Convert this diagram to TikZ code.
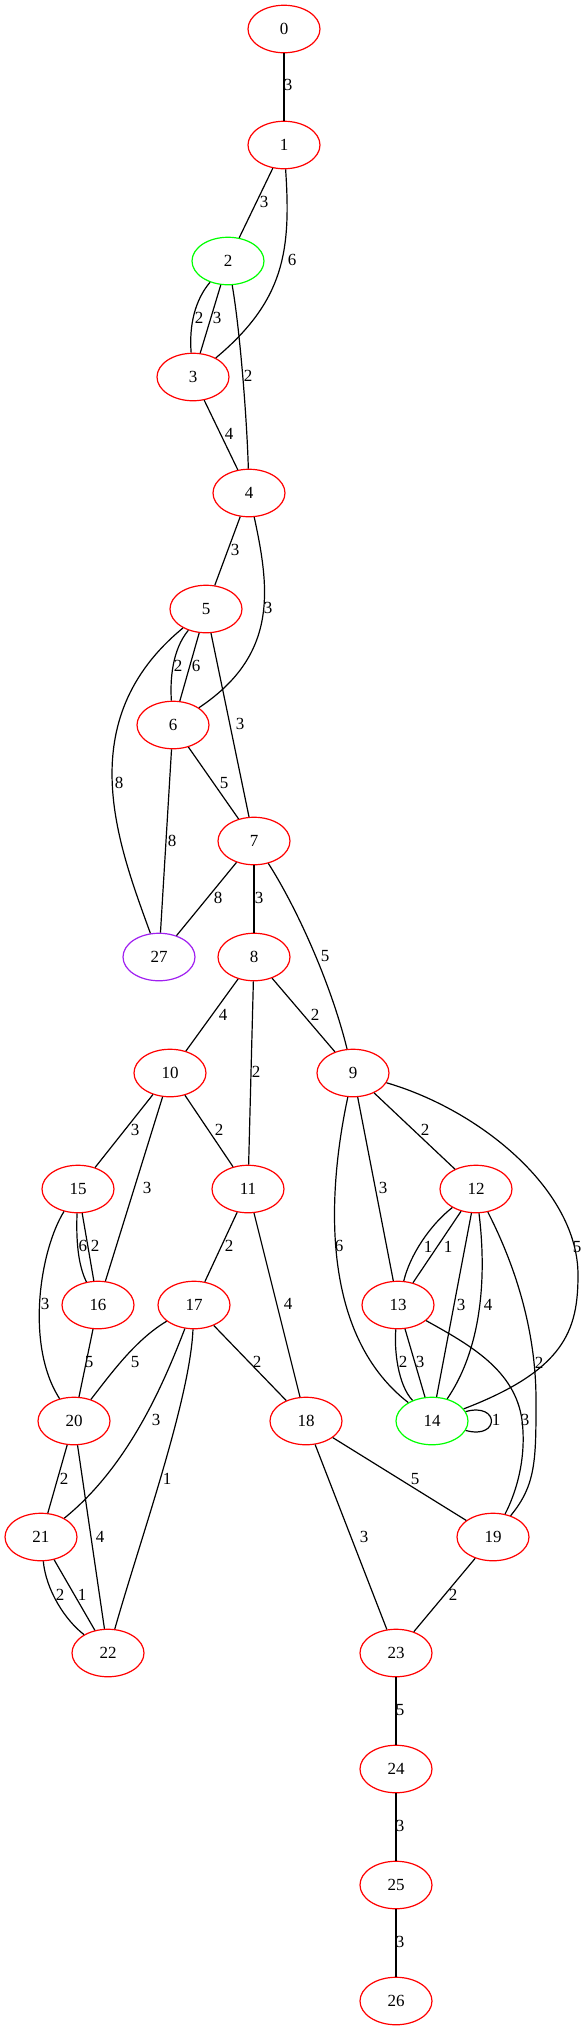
\documentclass[tikz,border=0pt]{standalone}
\usepackage{fontspec}
\setmainfont{Liberation Serif}
\usepackage{xcolor}
\usetikzlibrary{shapes.geometric}
\definecolor{vgreen}{RGB}{0,255,0}
\definecolor{vpurple}{RGB}{160,32,240}
\tikzset{vtx/.style={ellipse,draw=red,line width=0.6pt,minimum width=36pt,minimum height=23.75pt,inner sep=0pt,font=\fontsize{8.5}{10}\selectfont}}
\tikzset{wt/.style={inner sep=0pt,font=\fontsize{8.5}{10}\selectfont}}
\tikzset{link/.style={line width=0.6pt}}

\begin{document}
\begin{tikzpicture}[x=0.5pt,y=-0.5pt]
                    \useasboundingbox (0,0) rectangle (588,2031);

                    \node[vtx] (n0) at (284,29) {0};
                    \node[vtx] (n1) at (284,145) {1};
                    \node[vtx,draw=vgreen] (n2) at (228,261) {2};
                    \node[vtx] (n3) at (193,377) {3};
                    \node[vtx] (n4) at (249,493) {4};
                    \node[vtx] (n5) at (206,609) {5};
                    \node[vtx] (n6) at (173,725) {6};
                    \node[vtx] (n7) at (254,841) {7};
                    \node[vtx,draw=vpurple] (n27) at (159,957) {27};
                    \node[vtx] (n8) at (254,957) {8};
                    \node[vtx] (n10) at (170,1073) {10};
                    \node[vtx] (n9) at (353,1073) {9};
                    \node[vtx] (n15) at (78,1189) {15};
                    \node[vtx] (n11) at (248,1189) {11};
                    \node[vtx] (n12) at (476,1189) {12};
                    \node[vtx] (n16) at (98,1305) {16};
                    \node[vtx] (n17) at (194,1305) {17};
                    \node[vtx] (n13) at (398,1305) {13};
                    \node[vtx] (n20) at (74,1421) {20};
                    \node[vtx] (n18) at (306,1421) {18};
                    \node[vtx,draw=vgreen] (n14) at (432,1421) {14};
                    \node[vtx] (n21) at (41,1537) {21};
                    \node[vtx] (n19) at (493,1537) {19};
                    \node[vtx] (n22) at (108,1653) {22};
                    \node[vtx] (n23) at (396,1653) {23};
                    \node[vtx] (n24) at (396,1769) {24};
                    \node[vtx] (n25) at (396,1885) {25};
                    \node[vtx] (n26) at (396,2001) {26};

                    \draw[link] (n0) -- (n1);
                    \draw[link] (n1) -- (n2);
                    \draw[link] (n1) .. controls (291,250) and (285,300) .. (n3);
                    \draw[link] (n2) .. controls (195,300) and (189,325) .. (n3);
                    \draw[link] (n2) -- (n3);
                    \draw[link] (n2) .. controls (240,330) and (247,420) .. (n4);
                    \draw[link] (n3) -- (n4);
                    \draw[link] (n4) -- (n5);
                    \draw[link] (n4) .. controls (270,590) and (278,655) .. (n6);
                    \draw[link] (n5) .. controls (70,721) and (118,844) .. (n27);
                    \draw[link] (n5) .. controls (172,650) and (170,680) .. (n6);
                    \draw[link] (n5) -- (n6);
                    \draw[link] (n5) -- (n7);
                    \draw[link] (n6) -- (n7);
                    \draw[link] (n6) -- (n27);
                    \draw[link] (n7) -- (n27);
                    \draw[link] (n7) -- (n8);
                    \draw[link] (n7) .. controls (295,905) and (330,980) .. (n9);
                    \draw[link] (n8) -- (n10);
                    \draw[link] (n8) -- (n11);
                    \draw[link] (n8) -- (n9);
                    \draw[link] (n10) -- (n15);
                    \draw[link] (n10) -- (n16);
                    \draw[link] (n10) -- (n11);
                    \draw[link] (n9) -- (n12);
                    \draw[link] (n9) -- (n13);
                    \draw[link] (n9) .. controls (330,1180) and (315,1330) .. (n14);
                    \draw[link] (n9) .. controls (480,1110) and (578,1190) .. (578,1275) .. controls (578,1330) and (565,1370) .. (n14);
                    \draw[link] (n15) .. controls (76,1240) and (78,1265) .. (n16);
                    \draw[link] (n15) -- (n16);
                    \draw[link] (n15) .. controls (40,1250) and (25,1345) .. (n20);
                    \draw[link] (n11) -- (n17);
                    \draw[link] (n11) -- (n18);
                    \draw[link] (n12) .. controls (430,1225) and (410,1255) .. (n13);
                    \draw[link] (n12) -- (n13);
                    \draw[link] (n12) -- (n14);
                    \draw[link] (n12) .. controls (486,1270) and (484,1345) .. (n14);
                    \draw[link] (n12) .. controls (515,1265) and (536,1330) .. (536,1400) .. controls (536,1460) and (536,1485) .. (n19);
                    \draw[link] (n13) .. controls (394,1350) and (398,1385) .. (n14);
                    \draw[link] (n13) -- (n14);
                    \draw[link] (n13) .. controls (470,1345) and (515,1370) .. (522,1420) .. controls (527,1460) and (515,1495) .. (n19);
                    \draw[link] (n14) .. controls (500,1402) and (500,1440) .. (n14);
                    \draw[link] (n16) -- (n20);
                    \draw[link] (n17) .. controls (135,1340) and (110,1375) .. (n20);
                    \draw[link] (n17) .. controls (165,1380) and (130,1465) .. (n21);
                    \draw[link] (n17) .. controls (190,1400) and (140,1540) .. (n22);
                    \draw[link] (n17) -- (n18);
                    \draw[link] (n20) -- (n21);
                    \draw[link] (n20) -- (n22);
                    \draw[link] (n21) .. controls (46,1590) and (65,1620) .. (n22);
                    \draw[link] (n21) -- (n22);
                    \draw[link] (n18) -- (n19);
                    \draw[link] (n18) -- (n23);
                    \draw[link] (n19) -- (n23);
                    \draw[link] (n23) -- (n24);
                    \draw[link] (n24) -- (n25);
                    \draw[link] (n25) -- (n26);

                    \node[wt] (w0) at (288,85) {3};
                    \node[wt] (w1) at (264,202) {3};
                    \node[wt] (w2) at (292,260) {6};
                    \node[wt] (w3) at (199,318) {2};
                    \node[wt] (w4) at (217,318) {3};
                    \node[wt] (w5) at (248,376) {2};
                    \node[wt] (w6) at (229,434) {4};
                    \node[wt] (w7) at (235,550) {3};
                    \node[wt] (w8) at (268,608) {3};
                    \node[wt] (w9) at (178,666) {2};
                    \node[wt] (w10) at (196,666) {6};
                    \node[wt] (w11) at (119,783) {8};
                    \node[wt] (w12) at (240,724) {3};
                    \node[wt] (w13) at (224,783) {5};
                    \node[wt] (w14) at (172,841) {8};
                    \node[wt] (w15) at (218,898) {8};
                    \node[wt] (w16) at (259,898) {3};
                    \node[wt] (w17) at (325,956) {5};
                    \node[wt] (w18) at (223,1015) {4};
                    \node[wt] (w19) at (256,1072) {2};
                    \node[wt] (w20) at (315,1015) {2};
                    \node[wt] (w21) at (135,1130) {3};
                    \node[wt] (w22) at (147,1188) {3};
                    \node[wt] (w23) at (219,1130) {2};
                    \node[wt] (w24) at (425,1130) {2};
                    \node[wt] (w25) at (383,1188) {3};
                    \node[wt] (w26) at (339,1246) {6};
                    \node[wt] (w27) at (577,1247) {5};
                    \node[wt] (w28) at (83,1246) {6};
                    \node[wt] (w29) at (95,1246) {2};
                    \node[wt] (w30) at (45,1304) {3};
                    \node[wt] (w31) at (229,1246) {2};
                    \node[wt] (w32) at (288,1304) {4};
                    \node[wt] (w33) at (428,1247) {1};
                    \node[wt] (w34) at (448,1247) {1};
                    \node[wt] (w35) at (461,1305) {3};
                    \node[wt] (w36) at (488,1305) {4};
                    \node[wt] (w37) at (539,1363) {2};
                    \node[wt] (w38) at (403,1362) {2};
                    \node[wt] (w39) at (420,1362) {3};
                    \node[wt] (w40) at (525,1420) {3};
                    \node[wt] (w41) at (496,1420) {1};
                    \node[wt] (w42) at (89,1362) {5};
                    \node[wt] (w43) at (135,1362) {5};
                    \node[wt] (w44) at (156,1420) {3};
                    \node[wt] (w45) at (167,1479) {1};
                    \node[wt] (w46) at (257,1362) {2};
                    \node[wt] (w47) at (64,1479) {2};
                    \node[wt] (w48) at (100,1537) {4};
                    \node[wt] (w49) at (60,1595) {2};
                    \node[wt] (w50) at (82,1595) {1};
                    \node[wt] (w51) at (415,1479) {5};
                    \node[wt] (w52) at (364,1537) {3};
                    \node[wt] (w53) at (453,1595) {2};
                    \node[wt] (w54) at (400,1710) {5};
                    \node[wt] (w55) at (400,1826) {3};
                    \node[wt] (w56) at (400,1942) {3};
                \end{tikzpicture}
\end{document}
